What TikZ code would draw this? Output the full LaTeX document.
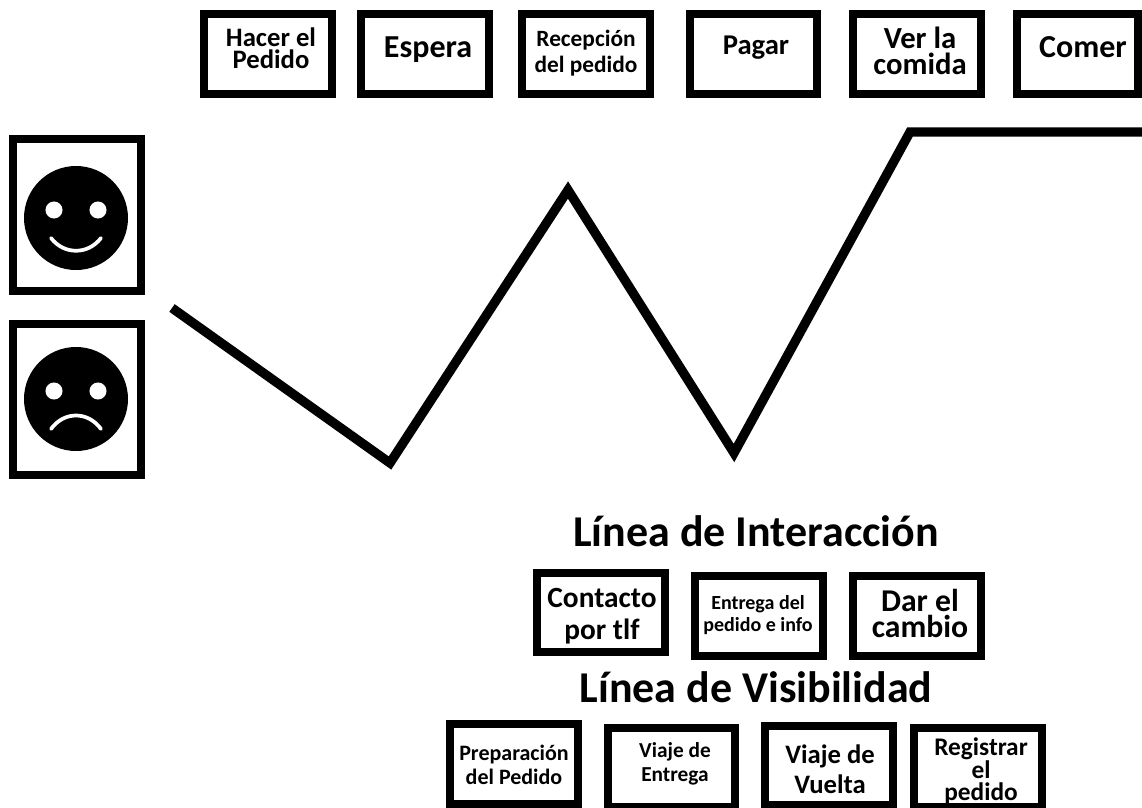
\documentclass[tikz,border=0pt]{standalone}
\usepackage{fontspec}
\setmainfont{Carlito}
% bx{name}{x0}{y0}{x1}{y1}: framed box given by its outer edges in reference pixels
\newcommand\bx[5]{%
  \pgfmathsetmacro\bxw{(#4-#2-8.4)*0.75}%
  \pgfmathsetmacro\bxh{(#5-#3-8.4)*0.75}%
  \node[framebox,minimum width=\bxw pt,minimum height=\bxh pt] (#1) at ({(#2+#4)/2},{(#3+#5)/2}) {};}
% tx{name}{cx}{cy}{size}{leading}{text}
\newcommand\tx[6]{%
  \node[lbl,font=\fontsize{#4pt}{#5pt}\selectfont\bfseries] (#1) at (#2,#3) {#6};}
\tikzset{
  x=0.75pt,y=-0.75pt,
  framebox/.style={draw=black,line width=6.3pt,fill=white,inner sep=0pt,outer sep=0pt},
  lbl/.style={align=center,inner sep=0pt,outer sep=0pt,text=black},
  mood/.style={circle,fill=black,draw=none,minimum size=78pt,inner sep=0pt},
  eye/.style={circle,fill=white,draw=none,minimum size=12.8pt,inner sep=0pt},
  mouth/.style={draw=white,line width=2.8pt,line cap=round},
  curve/.style={draw=black,line width=7pt,line join=miter,line cap=butt}
}
\begin{document}
\begin{tikzpicture}
\useasboundingbox (0,0) rectangle (1142,807);
\clip (0,0) rectangle (1142,807);
\fill[white] (0,0) rectangle (1142,807);

% top row
\bx{a1}{200}{10}{336}{98}
\bx{a2}{357}{10}{493}{98}
\bx{a3}{518}{10}{654}{98}
\bx{a4}{686}{10}{821}{98}
\bx{a5}{849}{10}{985}{98}
\bx{a6}{1013}{10}{1142}{98}
\tx{ta1}{271}{48}{20}{16.5}{Hacer el\\Pedido}
\tx{ta2}{428}{50}{24}{26}{Espera}
\tx{ta3}{586}{53.5}{17.5}{19.5}{Recepción\\del pedido}
\tx{ta4}{756}{48}{21.5}{24}{Pagar}
\tx{ta5}{920}{51}{23}{19.5}{Ver la\\comida}
\tx{ta6}{1083}{47}{24}{26}{Comer}

% mood boxes
\bx{up}{9}{135}{145}{295}
\bx{down}{9}{320}{145}{479}
\node[mood] (happy) at (76,218) {};
\node[eye] (he1) at (54,210) {};
\node[eye] (he2) at (98,210) {};
\draw[mouth] (51,238) .. controls (64,255) and (88,255) .. (101,238);
\node[mood] (sad) at (76,399) {};
\node[eye] (se1) at (54,391) {};
\node[eye] (se2) at (98,391) {};
\draw[mouth] (51,429) .. controls (64,411) and (88,411) .. (101,429);

% satisfaction line
\coordinate (p0) at (172,308);
\coordinate (p1) at (390,463);
\coordinate (p2) at (568,190);
\coordinate (p3) at (734,453);
\coordinate (p4) at (910,132);
\coordinate (p5) at (1150,132);
\draw[curve] (p0) -- (p1) -- (p2) -- (p3) -- (p4) -- (p5);

% titles
\tx{t1}{756}{531}{33}{36}{Línea de Interacción}
\tx{t2}{756}{687}{33}{36}{Línea de Visibilidad}

% interaction row
\bx{b1}{533}{569}{669}{656}
\bx{b2}{691}{572}{827}{660}
\bx{b3}{849}{572}{985}{660}
\tx{tb1}{602}{616}{22}{24}{Contacto\\por tlf}
\tx{tb2}{758}{615}{15}{16.5}{Entrega del\\pedido e info}
\tx{tb3}{920}{613}{23.8}{19.5}{Dar el\\cambio}

% visibility row
\bx{c1}{446}{720}{582}{808}
\bx{c2}{604}{724}{739}{811}
\bx{c3}{761}{722}{897}{809}
\bx{c4}{910}{724}{1046}{811}
\tx{tc1}{514}{765}{16.5}{18}{Preparación\\del Pedido}
\tx{tc2}{675}{764}{16}{18}{Viaje de\\Entrega}
\tx{tc3}{830}{769}{20}{22.5}{Viaje de\\Vuelta}
\tx{tc4}{981}{771}{19}{16}{Registrar\\el\\pedido}
\end{tikzpicture}
\end{document}
